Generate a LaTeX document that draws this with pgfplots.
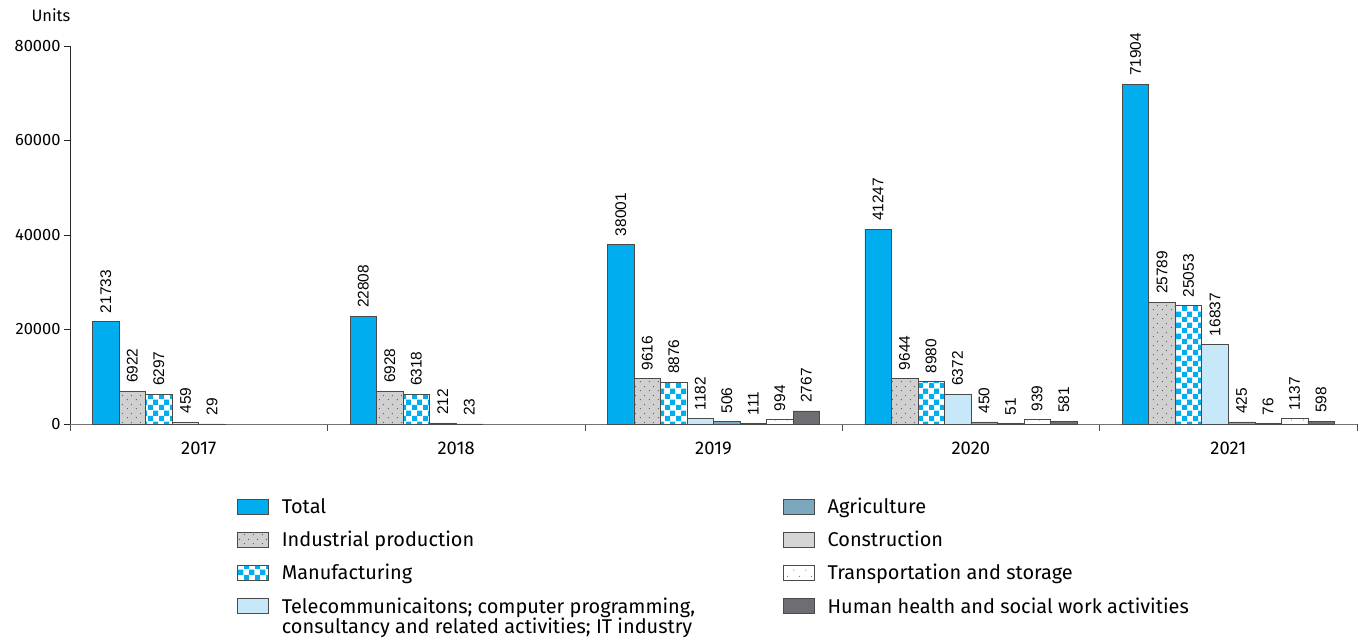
\documentclass[border=0pt]{standalone}
\usepackage{pgfplots}
\pgfplotsset{compat=1.18}
\usepackage{fontspec}
\setmainfont{Fira Sans}
\newfontfamily\arial{Liberation Sans}
\usetikzlibrary{patterns}
\definecolor{totalC}{HTML}{00AEEF}
\definecolor{indC}{HTML}{D0D0D0}
\definecolor{telC}{HTML}{C7E8F8}
\definecolor{agrC}{HTML}{7BA7BF}
\definecolor{conC}{HTML}{D4D5D6}
\definecolor{hlC}{HTML}{6D6E71}
\definecolor{edgeC}{HTML}{4A4A4A}
\pgfdeclarepatternformonly{mychecker}{\pgfpointorigin}{\pgfqpoint{10.6bp}{10.6bp}}{\pgfqpoint{10.6bp}{10.6bp}}{%
  \pgfpathrectangle{\pgfpointorigin}{\pgfqpoint{5.3bp}{5.3bp}}%
  \pgfpathrectangle{\pgfqpoint{5.3bp}{5.3bp}}{\pgfqpoint{5.3bp}{5.3bp}}%
  \pgfusepath{fill}}
\pgfdeclarepatternformonly{mydots}{\pgfpointorigin}{\pgfqpoint{9bp}{9bp}}{\pgfqpoint{9bp}{9bp}}{%
  \pgfpathcircle{\pgfqpoint{1.5bp}{1.5bp}}{0.7bp}%
  \pgfpathcircle{\pgfqpoint{6bp}{6bp}}{0.7bp}%
  \pgfusepath{fill}}
\pgfdeclarepatternformonly{sparsedots}{\pgfpointorigin}{\pgfqpoint{12bp}{12bp}}{\pgfqpoint{12bp}{12bp}}{%
  \pgfpathcircle{\pgfqpoint{2bp}{2bp}}{0.6bp}%
  \pgfpathcircle{\pgfqpoint{8bp}{8bp}}{0.6bp}%
  \pgfusepath{fill}}
\pgfplotstableread{
x total ind man tel agr con tr hl
0 21733 6922 6297 459 29 nan nan nan
1 22808 6928 6318 212 23 nan nan nan
2 38001 9616 8876 1182 506 111 994 2767
3 41247 9644 8980 6372 450 51 939 581
4 71904 25789 25053 16837 425 76 1137 598
}\datatable
\begin{document}
\begin{tikzpicture}
\useasboundingbox (0,0) rectangle (1359bp,644bp);
\begin{axis}[
  scale only axis,
  width=1287bp, height=378bp,
  at={(70bp,220bp)}, anchor=south west,
  xmin=-0.5, xmax=4.5, ymin=0, ymax=80000,
  enlargelimits=false,
  clip=false,
  ybar=0pt, bar width=0.103,
  axis x line=bottom, axis y line=left,
  axis line style={-},
  x axis line style={draw=black!55},
  y axis line style={draw=black!85},
  tick align=outside,
  xtick={0,1,2,3,4},
  xticklabels={2017,2018,2019,2020,2021},
  x tick style={draw=none},
  minor xtick={-0.5,0.5,1.5,2.5,3.5,4.5},
  minor tick length=7bp,
  minor x tick style={draw=black!70},
  major tick length=6bp,
  ytick={0,20000,40000,60000,80000},
  y tick style={draw=black!85},
  scaled y ticks=false,
  /pgf/number format/1000 sep={},
  /pgf/number format/assume math mode=true,
  yticklabel style={font=\fontsize{16.5}{19}\selectfont},
  xticklabel style={yshift=-8bp, font=\fontsize{18.5}{21}\selectfont},
  ylabel={Units},
  ylabel style={at={(axis description cs:-0.0148,1.082)}, rotate=-90, anchor=center, font=\fontsize{16.5}{19}\selectfont},
  nodes near coords={\pgfmathprintnumber[fixed,precision=0,1000 sep={},assume math mode=true]{\pgfplotspointmeta}},
  nodes near coords style={rotate=90, anchor=west, inner xsep=8bp, font=\arial\fontsize{15.5}{15}\selectfont},
  every axis plot/.append style={draw=edgeC, line width=0.6bp},
  legend image code/.code={\draw[#1] (0bp,-7.5bp) rectangle (31bp,7.5bp);},
  legend cell align=left,
  transpose legend,
  legend columns=4,
  legend style={at={(axis description cs:0.1298,-0.191)}, anchor=north west, draw=none, fill=none,
    font=\fontsize{20}{23}\selectfont, inner sep=0pt,
    /tikz/row sep=12bp,
    /tikz/every odd column/.append style={column sep=11bp},
    /tikz/every even column/.append style={column sep=86bp}},
]
\addplot[fill=totalC] table[x=x,y=total] {\datatable};
\addlegendentry{Total}
\addplot[fill=indC, postaction={pattern=mydots, pattern color=black!65}] table[x=x,y=ind] {\datatable};
\addlegendentry{Industrial production}
\addplot[fill=white, postaction={pattern=mychecker, pattern color=totalC}] table[x=x,y=man] {\datatable};
\addlegendentry{Manufacturing}
\addplot[fill=telC] table[x=x,y=tel] {\datatable};
\addlegendentry{\raisebox{0pt}[\height][0pt]{\begin{tabular}[t]{@{}l@{}}Telecommunicaitons; computer programming,\\[-3bp]consultancy and related activities; IT industry\end{tabular}}}
\addplot[fill=agrC] table[x=x,y=agr] {\datatable};
\addlegendentry{Agriculture}
\addplot[fill=conC] table[x=x,y=con] {\datatable};
\addlegendentry{Construction}
\addplot[fill=white, postaction={pattern=sparsedots, pattern color=black!60}] table[x=x,y=tr] {\datatable};
\addlegendentry{Transportation and storage}
\addplot[fill=hlC] table[x=x,y=hl] {\datatable};
\addlegendentry{Human health and social work activities}
\end{axis}
\end{tikzpicture}
\end{document}
